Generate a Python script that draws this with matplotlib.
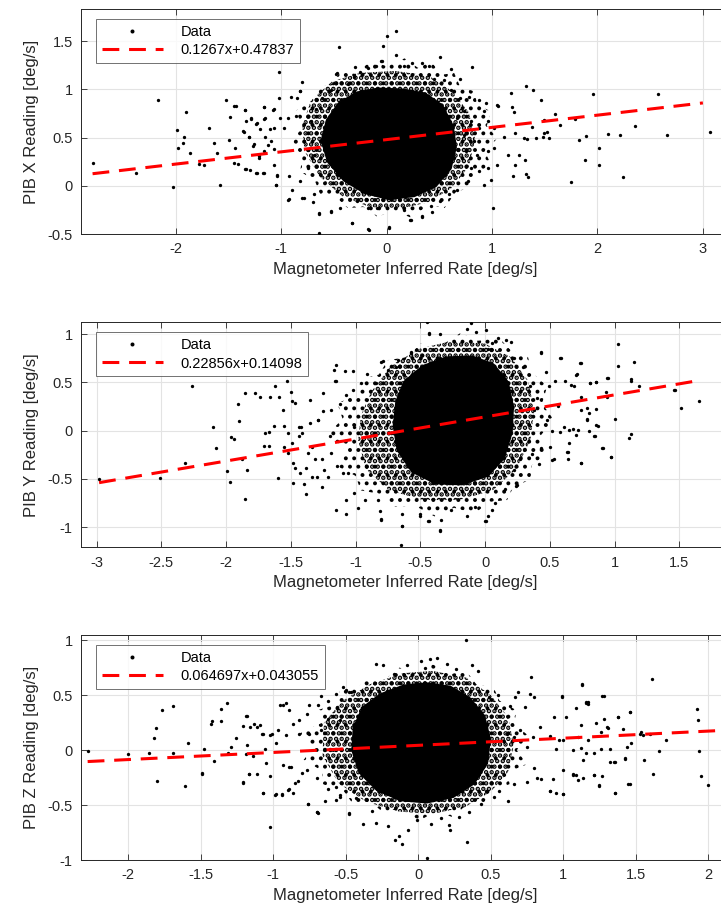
import numpy as np
import matplotlib.pyplot as plt

plt.rcParams['font.family'] = ['Liberation Sans', 'DejaVu Sans']
plt.rcParams['hatch.color'] = 'black'

# ---- panel 1: PIB X ----
pts_x = [
    (-2.79, 0.24), (-2.38, 0.13), (-2.17, 0.89), (-2.03, -0.01), (-1.99, 0.58), (-1.98, 0.39),
    (-1.93, 0.44), (-1.92, 0.51), (-1.90, 0.76), (-1.87, 0.34), (-1.78, 0.23), (-1.73, 0.22),
    (-1.69, 0.60), (-1.64, 0.44), (-1.61, 0.34), (-1.58, 0.01), (-1.52, 0.89), (-1.50, 0.47),
    (-1.49, 0.71), (-1.45, 0.83), (-1.44, 0.39), (-1.45, 0.24), (-1.41, 0.23), (-1.36, 0.57),
    (-1.34, 0.79), (-1.33, 0.67), (-1.33, 0.17), (-1.31, 0.51), (-1.29, 0.69), (-1.30, 0.16),
    (-1.27, 0.41), (-1.24, 0.64), (-1.23, 0.13), (-1.21, 0.31), (-1.20, 0.59), (-1.17, 0.13),
    (-1.16, 0.82), (-1.16, 0.69), (-1.15, 0.51), (-1.13, 0.42), (-1.11, 0.59), (-1.08, 0.79),
    (-1.07, 0.38), (-1.04, 0.11), (-1.05, 0.01), (-1.02, 1.18), (-1.02, 0.91), (-0.94, -0.15),
    (-0.80, 1.08), (-0.82, 0.98), (-0.78, -0.13), (-0.70, -0.17), (-0.64, -0.29), (-0.64, -0.49),
    (-0.53, -0.27), (-0.48, 1.16), (-0.45, 1.44), (-0.33, -0.39), (-0.30, 1.23), (-0.17, -0.46),
    (-0.03, 1.45), (0.00, 1.55), (0.09, 1.60), (0.09, 1.36), (0.02, -0.43), (-0.05, 1.29),
    (0.51, 1.33), (0.61, 1.21), (0.81, 1.23), (0.22, -0.35), (0.34, -0.31), (0.43, -0.27),
    (1.01, -0.23), (1.18, 0.96), (1.32, 1.03), (1.39, 0.99), (1.46, 0.89), (1.06, 0.83),
    (1.19, 0.82), (1.21, 0.76), (1.26, 0.32), (1.31, 0.27), (1.22, 0.22), (1.20, 0.10),
    (1.32, 0.12), (1.34, 0.09), (1.33, 0.48), (1.38, 0.61), (1.42, 0.50), (1.49, 0.68),
    (1.49, 0.55), (1.54, 0.50), (1.60, 0.74), (1.64, 0.63), (1.75, 0.04), (1.79, 0.69),
    (1.82, 0.47), (1.89, 0.52), (1.88, 0.27), (1.96, 0.95), (2.01, 0.39), (2.01, 0.22),
    (2.10, 0.54), (2.21, 0.53), (2.24, 0.09), (2.36, 0.62), (2.57, 0.95), (2.66, 0.53),
    (3.07, 0.56),
    (-1.43, 0.83), (-1.34, 0.79), (-1.29, 0.70), (-1.35, 0.56), (-1.23, 0.65), (-1.16, 0.82),
    (-1.07, 0.80), (-1.15, 0.70), (-1.01, 0.70), (-0.94, 0.70), (-0.86, 0.72), (-0.91, 0.92),
    (-0.85, 0.91), (-0.82, 0.98), (-0.97, 0.60), (-1.07, 0.60), (-1.10, 0.46), (-1.16, 0.36),
    (-1.26, 0.43), (-1.31, 0.51), (-1.21, 0.29), (-1.34, 0.17), (-1.24, 0.13), (-1.16, 0.13),
    (-1.07, 0.22), (-1.04, 0.10), (-1.05, 0.01), (-0.93, 0.10), (-0.90, -0.04), (-0.82, 0.05),
    (-0.80, -0.13), (-0.93, -0.14), (-0.69, -0.09), (-0.64, -0.28), (-0.75, 0.18), (-0.69, 0.32),
    (-0.78, 0.46), (-0.72, 0.67), (-0.67, 0.80), (-0.61, 0.91), (-0.53, 0.99), (-0.48, 1.06),
    (-0.47, 1.17), (-0.37, 1.05), (-0.31, 1.13), (-0.25, 1.18), (-0.18, 1.22), (-0.10, 1.24),
    (-0.04, 1.29), (0.16, 1.24), (0.24, 1.27), (0.34, 1.27), (0.40, 1.24), (0.45, 1.11),
    (0.54, 1.10), (0.70, 1.11), (0.61, 0.99), (0.70, 0.91), (0.78, 0.92), (0.88, 0.89),
    (0.94, 0.86), (0.92, 0.77), (1.05, 0.84), (1.52, 0.56), (1.48, 0.51), (1.30, 0.49),
    (1.22, 0.55), (1.11, 0.51), (1.02, 0.39), (0.96, 0.36), (0.86, 0.32), (0.75, 0.36),
    (0.80, 0.18), (0.88, 0.15), (0.99, 0.06), (0.92, 0.01), (0.77, 0.05), (0.67, -0.04),
    (0.59, -0.08), (0.51, -0.16), (0.42, -0.21), (0.34, -0.32), (0.23, -0.35), (0.16, -0.25),
    (0.02, -0.44), (-0.09, -0.23), (-0.18, -0.23), (-0.28, -0.16), (-0.33, -0.39), (-0.44, -0.23),
    (-0.53, -0.26), (-0.18, -0.45), (1.15, 0.32), (1.05, 0.22), (0.96, 0.18), (0.83, 0.46),
    (0.73, 0.53), (0.67, 0.70), (0.73, 0.77), (0.80, 0.67), (0.88, 0.60), (0.96, 0.67),
    (1.02, 0.60),
]
core_x = [(-0.45, 0.85), (-0.28, 0.96), (-0.08, 1.00), (0.15, 0.99), (0.36, 0.95), (0.52, 0.83),
          (0.62, 0.62), (0.65, 0.40), (0.60, 0.18), (0.46, 0.00), (0.26, -0.10), (0.02, -0.13),
          (-0.20, -0.07), (-0.40, 0.06), (-0.55, 0.25), (-0.61, 0.47), (-0.56, 0.68)]
inner_x = [(-0.72, 0.88), (-0.52, 1.08), (-0.25, 1.17), (0.08, 1.19), (0.40, 1.14), (0.62, 0.98),
           (0.78, 0.76), (0.84, 0.48), (0.78, 0.20), (0.62, -0.02), (0.40, -0.17), (0.12, -0.24),
           (-0.16, -0.22), (-0.42, -0.11), (-0.64, 0.10), (-0.78, 0.36), (-0.80, 0.62)]
halo_x = [(-0.91, 0.46), (-0.80, 0.60), (-0.86, 0.78), (-0.70, 0.88), (-0.66, 1.02), (-0.52, 1.05),
          (-0.44, 1.18), (-0.30, 1.16), (-0.15, 1.29), (0.00, 1.24), (0.17, 1.32), (0.30, 1.22),
          (0.42, 1.29), (0.52, 1.15), (0.64, 1.17), (0.70, 1.02), (0.83, 0.98), (0.86, 0.84),
          (0.99, 0.77), (0.95, 0.62), (1.05, 0.49), (0.93, 0.36), (0.99, 0.22), (0.84, 0.12),
          (0.80, -0.02), (0.66, -0.06), (0.55, -0.23), (0.40, -0.20), (0.23, -0.33), (0.08, -0.26),
          (-0.09, -0.32), (-0.22, -0.22), (-0.37, -0.23), (-0.48, -0.12), (-0.63, -0.09),
          (-0.68, 0.05), (-0.82, 0.15), (-0.80, 0.30)]
fit_x = (0.1267, 0.47837, -2.79, 3.0)

# ---- panel 2: PIB Y ----
pts_y = [
    (-2.98, -0.50), (-2.51, -0.49), (-2.32, -0.34), (-2.26, 0.46), (-2.10, 0.04), (-2.08, -0.18),
    (-1.99, -0.42), (-1.97, -0.53), (-1.96, -0.07), (-1.94, -0.09), (-1.91, 0.27), (-1.90, 0.10),
    (-1.88, -0.29), (-1.85, -0.71), (-1.84, -0.41), (-1.85, 0.39), (-1.78, 0.39), (-1.74, 0.35),
    (-1.70, -0.03), (-1.67, -0.02), (-1.71, -0.16), (-1.67, -0.16), (-1.66, 0.35), (-1.62, 0.46),
    (-1.59, 0.35), (-1.63, 0.05), (-1.60, -0.49), (-1.56, 0.21), (-1.55, 0.05), (-1.55, -0.17),
    (-1.53, 0.51), (-1.52, -0.03), (-1.50, 0.40), (-1.49, 0.31), (-1.47, 0.29), (-1.47, -0.39),
    (-1.48, -0.54), (-1.44, 0.04), (-1.43, -0.44), (-1.41, -0.03), (-1.40, -0.55), (-1.38, -0.66),
    (-1.37, -0.23), (-1.35, 0.32), (-1.34, -0.48), (-1.31, -0.30), (-1.29, 0.11), (-1.25, 0.39),
    (-1.24, -0.41), (-1.26, -0.58), (-1.20, -0.06), (-1.17, 0.63), (-1.16, 0.51), (-1.15, -0.82),
    (-1.08, 0.62), (-1.07, -0.87), (-1.06, -0.44), (-1.10, -0.44), (-1.01, 0.04),
    (-0.44, 1.13), (-0.43, 1.00), (-0.35, 1.00), (-0.11, 1.11), (-0.14, 1.05), (-0.07, 1.02),
    (0.01, 1.04), (-0.57, 0.80), (-0.49, 0.78), (-0.35, 0.75), (-1.15, 0.68), (-1.15, 0.51),
    (-1.02, 0.62), (-0.80, 0.71), (-0.75, 0.63), (-0.69, 0.66), (-0.91, 0.59), (-0.96, 0.49),
    (-0.84, 0.49), (-1.02, 0.42), (-1.07, 0.37), (-1.12, 0.28), (-1.19, 0.21), (-1.25, 0.20),
    (-1.29, 0.11), (-1.35, 0.08), (-1.42, 0.04), (-1.44, -0.06), (-1.49, -0.13), (-1.52, -0.23),
    (-1.48, -0.34), (-1.38, -0.39), (-1.30, -0.48), (-1.21, -0.48), (-1.14, -0.37), (-1.26, -0.30),
    (-1.19, -0.23), (-1.34, -0.17), (-1.07, -0.72), (-1.01, -0.65), (-0.93, -0.72), (-0.98, -0.80),
    (-0.83, -0.72), (-0.80, -0.93), (-0.64, -0.86), (-0.64, -0.99), (-0.65, -1.19), (-0.50, -0.86),
    (-0.43, -0.94), (-0.35, -1.04), (-0.34, -0.93), (-0.26, -0.82), (-0.14, -0.89), (-0.08, -0.79),
    (0.005, -0.94), (0.02, -0.89), (0.08, -0.75), (0.15, -0.61), (0.25, -0.56), (0.22, -0.41),
    (0.27, -0.30), (0.36, -0.24), (0.43, -0.18), (0.50, -0.17), (0.53, -0.30), (0.63, -0.22),
    (0.74, -0.34), (0.65, -0.13), (0.70, -0.05), (0.79, 0.11), (0.86, 0.06), (0.90, -0.18),
    (0.97, -0.27), (0.84, -0.06), (0.79, 0.23), (0.74, 0.35), (0.69, 0.46), (0.70, 0.58),
    (0.81, 0.49), (0.86, 0.50), (0.94, 0.54), (0.74, 0.70), (0.58, 0.75), (0.54, 0.51),
    (0.43, 0.80), (0.47, 0.61), (0.49, 0.46), (0.40, 0.34), (0.35, 0.46), (0.38, 0.21),
    (0.48, 0.11), (0.56, 0.25), (0.61, 0.04), (0.29, 0.66), (0.22, 0.75), (0.16, 0.94),
    (0.20, 0.92), (0.10, 0.96), (0.05, 0.91), (0.02, 0.84), (0.94, 0.35),
    (-0.45, 1.12), (-0.43, 1.01), (-0.57, 0.81), (-0.79, 0.72), (-0.67, 0.73), (0.43, 0.81),
    (0.59, 0.75), (0.73, 0.70), (1.03, 0.90), (1.03, 0.67), (0.95, 0.54), (1.15, 0.71),
    (1.13, 0.53), (1.13, 0.51), (1.19, 0.46), (0.86, 0.50), (0.81, 0.49), (0.71, 0.59),
    (0.66, 0.47), (0.62, 0.51), (0.93, 0.40), (1.46, 0.42), (1.47, 0.42), (1.65, 0.31),
    (1.51, 0.23), (1.00, 0.12), (0.86, 0.22), (0.87, 0.05), (0.80, 0.18), (0.79, 0.12),
    (0.74, 0.21), (0.72, 0.01), (0.65, 0.01), (0.68, 0.02), (0.58, -0.02), (0.52, -0.01),
    (0.85, -0.06), (0.80, -0.01), (1.13, -0.04), (1.11, -0.08), (0.91, -0.18), (0.97, -0.27),
    (0.64, -0.22), (0.64, -0.29), (0.52, -0.31), (0.74, -0.34), (0.42, -0.35), (0.24, -0.57),
    (0.05, -0.82), (0.00, -0.94), (-0.35, -1.03), (-0.44, -0.94), (-0.64, -0.99), (-0.50, -0.89),
    (-0.80, -0.92), (-0.81, -0.83),
]
core_y = [(-0.62, 0.50), (-0.48, 0.66), (-0.30, 0.75), (-0.10, 0.76), (0.06, 0.68), (0.17, 0.50),
          (0.21, 0.25), (0.20, -0.02), (0.14, -0.28), (0.02, -0.46), (-0.18, -0.55), (-0.38, -0.54),
          (-0.56, -0.42), (-0.67, -0.20), (-0.70, 0.05), (-0.68, 0.30)]
inner_y = [(-0.88, 0.40), (-0.72, 0.68), (-0.50, 0.85), (-0.25, 0.93), (0.00, 0.90), (0.20, 0.76),
           (0.33, 0.52), (0.38, 0.22), (0.35, -0.10), (0.24, -0.40), (0.06, -0.62), (-0.20, -0.72),
           (-0.48, -0.72), (-0.74, -0.62), (-0.92, -0.40), (-0.98, -0.10), (-0.96, 0.15)]
halo_y = [(-1.21, -0.03), (-1.10, 0.12), (-1.14, 0.28), (-0.98, 0.38), (-0.96, 0.53), (-0.82, 0.58),
          (-0.75, 0.73), (-0.60, 0.76), (-0.50, 0.90), (-0.34, 0.88), (-0.19, 1.01), (-0.05, 0.93),
          (0.10, 0.97), (0.20, 0.83), (0.33, 0.77), (0.36, 0.60), (0.48, 0.46), (0.44, 0.28),
          (0.53, 0.11), (0.43, -0.05), (0.48, -0.24), (0.36, -0.36), (0.35, -0.51), (0.22, -0.58),
          (0.17, -0.72), (0.03, -0.74), (-0.08, -0.86), (-0.24, -0.80), (-0.39, -0.89),
          (-0.54, -0.78), (-0.70, -0.79), (-0.80, -0.66), (-0.96, -0.62), (-1.00, -0.47),
          (-1.14, -0.37), (-1.08, -0.20)]
fit_y = (0.22856, 0.14098, -2.98, 1.65)

# ---- panel 3: PIB Z ----
pts_z = [
    (-2.28, -0.01), (-2.00, -0.04), (-1.86, -0.03), (-1.82, 0.11), (-1.81, 0.20), (-1.77, 0.36),
    (-1.80, -0.28), (-1.69, 0.40), (-1.69, -0.03), (-1.61, -0.33), (-1.59, 0.06), (-1.49, -0.21),
    (-1.49, -0.22), (-1.48, 0.01), (-1.43, 0.24), (-1.42, 0.26), (-1.41, -0.10), (-1.36, 0.37),
    (-1.36, 0.26), (-1.32, 0.43), (-1.31, -0.03), (-1.29, 0.03), (-1.26, 0.11), (-1.21, 0.22),
    (-1.19, 0.31), (-1.21, -0.30), (-1.19, -0.04), (-1.18, 0.05), (-1.17, -0.22), (-1.16, 0.21),
    (-1.11, 0.21), (-1.11, -0.22), (-1.09, 0.23), (-1.07, 0.15), (-1.07, -0.39), (-1.05, -0.12),
    (-1.02, 0.14), (-1.02, -0.24), (-1.02, -0.70), (-0.99, -0.41), (-0.95, 0.41), (-0.94, -0.40),
    (-0.91, 0.43), (-0.91, 0.14), (-0.90, -0.36), (-0.88, -0.15), (-0.86, -0.39), (-0.85, -0.30),
    (-0.80, -0.21), (-0.76, -0.49), (-0.69, -0.57), (-0.70, -0.56), (-0.67, 0.49), (-0.57, -0.45),
    (-0.54, -0.41), (-0.48, -0.57), (-0.50, 0.55), (-0.46, 0.53),
    (0.33, 1.00), (-0.29, 0.78), (-0.24, 0.77), (-0.08, 0.77), (0.02, 0.81), (0.08, 0.83),
    (0.13, 0.84), (0.05, 0.75), (0.20, 0.78), (0.26, 0.74), (0.37, 0.77), (0.41, 0.72),
    (-0.17, 0.69), (-0.10, 0.68), (-0.52, 0.57), (-0.48, 0.53), (-0.57, 0.51), (-0.62, 0.45),
    (-0.56, 0.39), (-0.69, 0.41), (-0.75, 0.41), (-0.77, 0.33), (-0.82, 0.27), (-0.86, 0.24),
    (-0.93, 0.41), (-0.89, 0.36), (-0.82, 0.15), (-0.75, 0.15), (-0.67, 0.18), (-0.62, 0.28),
    (-0.54, 0.27), (-0.97, 0.18), (-1.01, 0.15), (-1.08, 0.15), (-1.13, 0.24), (-1.18, 0.31),
    (-0.98, 0.06), (-1.06, 0.01), (-1.14, -0.05), (-1.21, -0.29), (-1.17, -0.22), (-1.07, -0.39),
    (-0.98, -0.40), (-0.94, -0.41), (-0.89, -0.35), (-0.83, -0.28), (-0.77, -0.18), (-0.70, -0.25),
    (-0.89, -0.15), (-0.93, -0.14), (-0.76, -0.49), (-0.70, -0.56), (-0.64, -0.46), (-0.62, -0.35),
    (-0.57, -0.34), (-0.54, -0.43), (-0.48, -0.58), (-0.43, -0.44), (-0.38, -0.67), (-0.32, -0.55),
    (-0.29, -0.66), (-0.21, -0.69), (-0.16, -0.82), (-0.13, -0.78), (-0.11, -0.85), (-0.07, -0.73),
    (-0.01, -0.64), (0.06, -0.98), (0.09, -0.67), (0.16, -0.62), (0.21, -0.68), (0.22, -0.73),
    (0.34, -0.84), (0.28, -0.61), (0.35, -0.56), (0.43, -0.49), (0.47, -0.37), (0.52, -0.43),
    (0.56, -0.37), (0.62, -0.46), (0.66, -0.31), (0.75, -0.29), (0.80, -0.16), (0.82, -0.25),
    (0.85, -0.26), (0.93, -0.26), (0.91, -0.37), (1.00, -0.40), (1.07, -0.23), (1.14, -0.25),
    (1.21, -0.23), (1.25, -0.32), (1.36, -0.39), (1.45, -0.31), (1.43, -0.08), (1.32, 0.01),
    (1.35, -0.11), (1.26, 0.01), (1.21, -0.03), (1.14, -0.09), (1.07, 0.00), (1.00, 0.09),
    (0.95, 0.01), (0.91, 0.13), (0.84, 0.21), (0.79, 0.12), (0.75, 0.03), (0.70, 0.18),
    (0.66, 0.12), (0.61, 0.15), (0.74, 0.39), (0.77, 0.51), (0.80, 0.48), (0.78, 0.66),
    (0.69, 0.53), (0.67, 0.48), (0.63, 0.40), (0.55, 0.50), (0.49, 0.48), (0.99, 0.49),
    (1.02, 0.30), (1.09, 0.38), (1.16, 0.44), (1.17, 0.44), (1.13, 0.60), (1.28, 0.49),
    (1.30, 0.21), (1.38, 0.30), (1.46, 0.35), (1.53, 0.15), (1.47, 0.06),
    (1.13, 0.59), (1.16, 0.43), (1.17, 0.42), (0.99, 0.48), (1.27, 0.49), (1.23, 0.25),
    (1.28, 0.28), (1.26, 0.16), (1.31, 0.20), (1.38, 0.30), (1.41, 0.19), (1.46, 0.35),
    (1.55, 0.14), (1.54, 0.16), (1.61, 0.65), (1.60, 0.15), (1.71, 0.09), (1.66, -0.01),
    (1.92, 0.37), (1.93, 0.27), (1.94, -0.01), (1.95, -0.24), (2.00, -0.32), (1.62, -0.22),
    (1.56, -0.09), (1.44, 0.03), (1.46, -0.31), (1.43, -0.07), (1.36, -0.11), (1.32, -0.11),
    (1.36, -0.39), (1.27, -0.24), (1.25, -0.33), (1.21, -0.23), (1.16, -0.03), (1.17, 0.09),
    (1.12, 0.23), (1.10, 0.12), (1.12, 0.02), (1.09, -0.23), (1.10, -0.27), (1.07, -0.22),
    (1.00, -0.18), (1.00, -0.40), (0.95, -0.39), (0.91, -0.37), (0.97, 0.09), (0.94, 0.30),
]
core_z = [(-0.38, 0.38), (-0.26, 0.50), (-0.10, 0.58), (0.06, 0.60), (0.22, 0.57), (0.35, 0.47),
          (0.45, 0.31), (0.49, 0.10), (0.47, -0.12), (0.38, -0.30), (0.24, -0.42), (0.06, -0.47),
          (-0.12, -0.45), (-0.28, -0.36), (-0.40, -0.20), (-0.45, 0.00), (-0.44, 0.20)]
inner_z = [(-0.65, 0.25), (-0.52, 0.45), (-0.33, 0.60), (-0.10, 0.70), (0.10, 0.72), (0.33, 0.66),
           (0.50, 0.50), (0.62, 0.30), (0.66, 0.05), (0.62, -0.20), (0.50, -0.38), (0.32, -0.52),
           (0.10, -0.58), (-0.13, -0.56), (-0.36, -0.47), (-0.55, -0.30), (-0.66, -0.05)]
halo_z = [(-0.79, -0.09), (-0.72, 0.03), (-0.82, 0.15), (-0.66, 0.25), (-0.70, 0.36), (-0.56, 0.42),
          (-0.54, 0.54), (-0.42, 0.56), (-0.36, 0.66), (-0.22, 0.65), (-0.13, 0.75), (0.00, 0.70),
          (0.10, 0.78), (0.22, 0.69), (0.33, 0.72), (0.40, 0.60), (0.52, 0.57), (0.56, 0.45),
          (0.68, 0.36), (0.66, 0.24), (0.77, 0.12), (0.68, 0.00), (0.75, -0.13), (0.62, -0.20),
          (0.63, -0.31), (0.50, -0.37), (0.45, -0.49), (0.33, -0.50), (0.24, -0.61), (0.12, -0.56),
          (0.01, -0.64), (-0.10, -0.55), (-0.22, -0.59), (-0.32, -0.48), (-0.45, -0.49),
          (-0.52, -0.36), (-0.66, -0.31), (-0.66, -0.19)]
fit_z = (0.064697, 0.043055, -2.28, 2.3)

panels = [
    (pts_x, core_x, inner_x, halo_x, fit_x, 'PIB X Reading [deg/s]', (-2.9, 3.256), (-0.5, 1.83),
     [-2, -1, 0, 1, 2, 3], [-0.5, 0, 0.5, 1, 1.5], 0.7445, '0.1267x+0.47837'),
    (pts_y, core_y, inner_y, halo_y, fit_y, 'PIB Y Reading [deg/s]', (-3.12, 1.89), (-1.21, 1.12),
     [-3, -2.5, -2, -1.5, -1, -0.5, 0, 0.5, 1, 1.5], [-1, -0.5, 0, 0.5, 1], 0.4025,
     '0.22856x+0.14098'),
    (pts_z, core_z, inner_z, halo_z, fit_z, 'PIB Z Reading [deg/s]', (-2.326, 2.15), (-1.0, 1.045),
     [-2, -1.5, -1, -0.5, 0, 0.5, 1, 1.5, 2], [-1, -0.5, 0, 0.5, 1], 0.0611,
     '0.064697x+0.043055'),
]


def speckle(ax, poly, hatch, width):
    # dense scatter zone drawn as a dotted region
    with plt.rc_context({'hatch.linewidth': width}):
        patch = ax.fill(poly[:, 0], poly[:, 1], facecolor='none', edgecolor='black',
                        hatch=hatch, lw=0, zorder=2)[0]
    if hasattr(patch, 'set_hatch_linewidth'):
        patch.set_hatch_linewidth(width)


fig = plt.figure(figsize=(7.21, 9.16), dpi=100)
dark = '#262626'

for pts, core, inner, halo, fit, ylab, xl, yl, xt, yt, bot, leg in panels:
    ax = fig.add_axes([0.1123, bot, 0.900, 0.2455])
    p = np.array(pts)
    c = np.array(core)
    speckle(ax, np.array(halo), '..', 1.6)
    speckle(ax, np.array(inner), '...', 2.3)
    ax.fill(c[:, 0], c[:, 1], color='black', lw=2.5, zorder=2)
    ax.plot(p[:, 0], p[:, 1], 'o', color='black', ms=2.4, mew=0, zorder=3, label='Data')
    a, b, x0, x1 = fit
    fx = np.array([x0, x1])
    ax.plot(fx, a * fx + b, '--', color='#ff0000', lw=2.2, dashes=(5.5, 3.2), zorder=4,
            label=leg)
    ax.set_xlim(xl)
    ax.set_ylim(yl)
    ax.set_xticks(xt)
    ax.set_xticklabels([f'{v:g}' for v in xt])
    ax.set_yticks(yt)
    ax.set_yticklabels([f'{v:g}' for v in yt])
    ax.grid(True, color='#e3e3e3', lw=0.8, zorder=0)
    ax.set_axisbelow(True)
    ax.tick_params(direction='in', top=True, right=True, length=4, width=0.6, colors=dark,
                   labelsize=10.5, pad=6)
    for s in ax.spines.values():
        s.set_color(dark)
        s.set_linewidth(0.7)
    ax.set_xlabel('Magnetometer Inferred Rate [deg/s]', fontsize=12, color=dark, labelpad=4)
    ax.set_ylabel(ylab, fontsize=12, color=dark, labelpad=6)
    lg = ax.legend(loc='upper left', bbox_to_anchor=(0.023, 0.956), borderaxespad=0,
                   fontsize=10.5, frameon=True, fancybox=False, edgecolor='#4d4d4d',
                   handlelength=4.2, handletextpad=1.2, borderpad=0.4, labelspacing=0.3,
                   markerscale=1.2)
    lg.get_frame().set_linewidth(0.7)

fig.savefig('out.png', dpi=100)
